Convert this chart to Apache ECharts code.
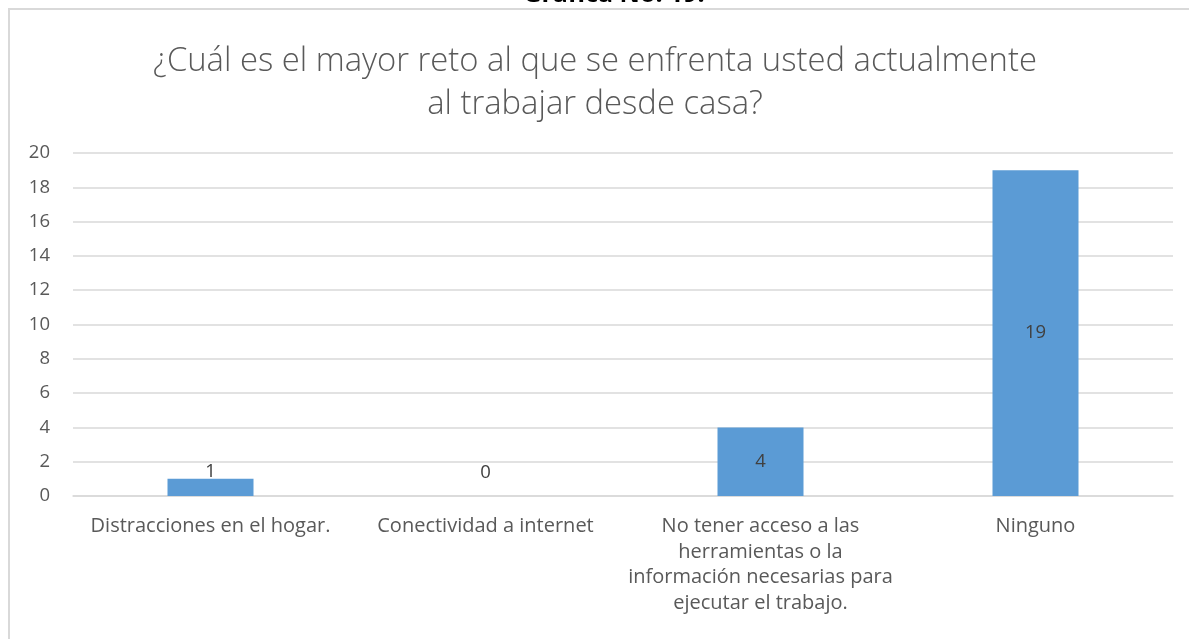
<!DOCTYPE html>
<html><head><meta charset="utf-8">
<script src="https://cdn.jsdelivr.net/npm/echarts@6/dist/echarts.min.js"></script>
<style>html,body{margin:0;padding:0;background:#fff}#c{width:1189px;height:639px}</style>
</head><body><div id="c"></div>
<script>
const categories = ['Distracciones en el hogar.', 'Conectividad a internet', 'No tener acceso a las\nherramientas o la\ninformación necesarias para\nejecutar el trabajo.', 'Ninguno'];
const values = [1, 0, 4, 19];
const yTicks = { min: 0, max: 20, interval: 2 };
const chartTitle = '¿Cuál es el mayor reto al que se enfrenta usted actualmente\nal trabajar desde casa?';
const caption = 'Gráfica No. 19.';

const FONT = '"Open Sans", sans-serif';
const chart = echarts.init(document.getElementById('c'), null, {renderer: 'canvas'});
const labelFor = v => {
  if (v === 0) return {position: 'top', distance: 14};
  if (v <= 1) return {position: 'top', distance: -2};
  return {position: 'inside'};
};
chart.setOption({
  animation: false,
  backgroundColor: '#fff',
  graphic: [
    {type: 'rect', shape: {x: 9, y: 9, width: 1200, height: 700}, style: {fill: 'none', stroke: '#d9d9d9', lineWidth: 2}, silent: true},
    {type: 'text', x: 614, y: -5.5, style: {text: caption, font: 'bold 25px ' + FONT, fill: '#000', textAlign: 'center', textVerticalAlign: 'middle'}}
  ],
  title: {
    text: chartTitle, left: 590, top: 35, textAlign: 'center',
    textStyle: {fontFamily: FONT, fontWeight: 300, fontSize: 32.8, color: '#595959', lineHeight: 43}
  },
  grid: {left: 73, right: 16, top: 153, bottom: 143},
  xAxis: {
    type: 'category', data: categories,
    axisLine: {show: true, lineStyle: {color: '#d9d9d9', width: 1.5}},
    axisTick: {show: false},
    axisLabel: {color: '#595959', fontFamily: FONT, fontSize: 20, margin: 18, lineHeight: 25.5, interval: 0}
  },
  yAxis: {
    type: 'value', min: yTicks.min, max: yTicks.max, interval: yTicks.interval,
    axisLine: {show: false}, axisTick: {show: false},
    splitLine: {lineStyle: {color: '#d9d9d9', width: 1.5}},
    axisLabel: {color: '#595959', fontFamily: FONT, fontSize: 18.5, margin: 23}
  },
  series: [{
    type: 'bar', barWidth: 86,
    data: values.map(v => ({value: v, label: labelFor(v)})),
    itemStyle: {color: '#5b9bd5'},
    label: {show: true, color: '#404040', fontFamily: FONT, fontSize: 18.5}
  }]
});
</script></body></html>
